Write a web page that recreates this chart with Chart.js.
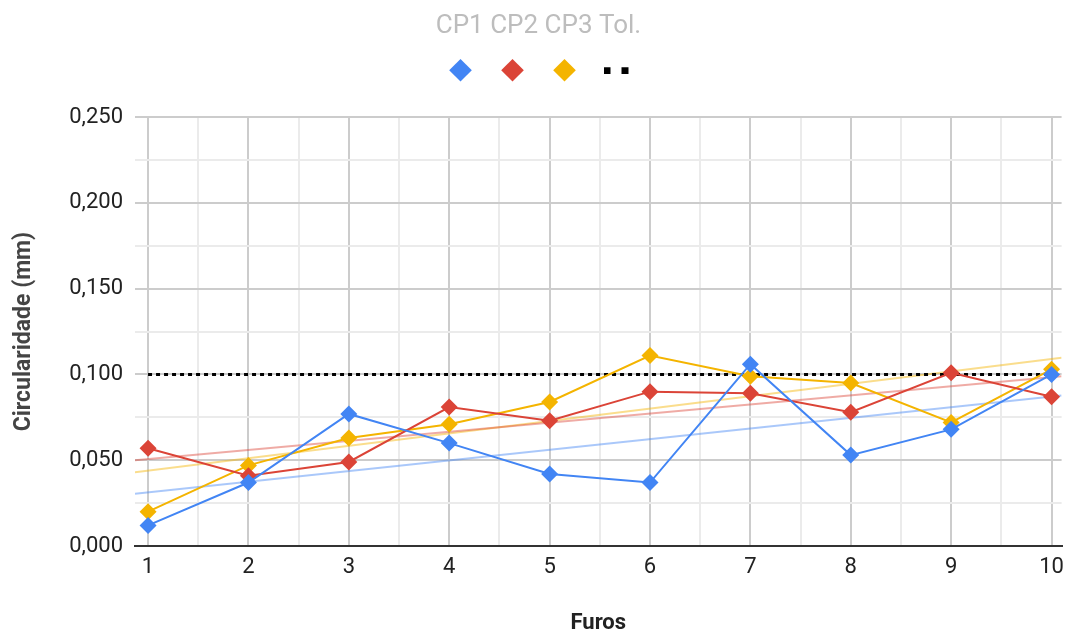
<!DOCTYPE html>
<html><head><meta charset="utf-8">
<script src="https://cdn.jsdelivr.net/npm/chart.js@4"></script>
<style>html,body{margin:0;padding:0;background:#fff}</style>
</head><body>
<canvas id="c" width="1072" height="637"></canvas>
<script>
const furos = [1, 2, 3, 4, 5, 6, 7, 8, 9, 10];
const cp1 = [0.012, 0.037, 0.077, 0.060, 0.042, 0.037, 0.106, 0.053, 0.068, 0.100];
const cp2 = [0.057, 0.041, 0.049, 0.081, 0.073, 0.090, 0.089, 0.078, 0.101, 0.087];
const cp3 = [0.020, 0.047, 0.063, 0.071, 0.084, 0.111, 0.099, 0.095, 0.072, 0.103];
const tol = [0.100, 0.100, 0.100, 0.100, 0.100, 0.100, 0.100, 0.100, 0.100, 0.100];
const seriesNames = ['CP1', 'CP2', 'CP3', 'Tol.'];
const yMajorTicks = [0, 0.05, 0.10, 0.15, 0.20, 0.25];
const xTickLabels = ['1', '2', '3', '4', '5', '6', '7', '8', '9', '10'];

const X_MIN = 0.87, X_MAX = 10.1;
const colors = ['#4285f4', '#db4437', '#f4b400'];
const trendColors = ['rgba(66,133,244,0.45)', 'rgba(219,68,55,0.45)', 'rgba(244,180,0,0.45)'];

function pts(ys) { return furos.map((x, i) => ({ x: x, y: ys[i] })); }
function trend(ys) {
  const n = furos.length;
  const mx = furos.reduce((a, b) => a + b, 0) / n;
  const my = ys.reduce((a, b) => a + b, 0) / n;
  let sxy = 0, sxx = 0;
  furos.forEach((x, i) => { sxy += (x - mx) * (ys[i] - my); sxx += (x - mx) * (x - mx); });
  const b = sxy / sxx, a = my - b * mx;
  return [{ x: X_MIN, y: a + b * X_MIN }, { x: X_MAX, y: a + b * X_MAX }];
}

// legend icon for tolerance (two black squares)
const tolIcon = document.createElement('canvas');
tolIcon.width = 26; tolIcon.height = 8;
(function () {
  const g = tolIcon.getContext('2d');
  g.fillStyle = '#000';
  g.fillRect(0, 1, 7, 7);
  g.fillRect(18, 1, 7, 7);
})();

const all = [cp1, cp2, cp3];
const datasets = [];
all.forEach((s, i) => {
  datasets.push({
    label: seriesNames[i], data: pts(s), borderColor: colors[i], backgroundColor: colors[i],
    borderWidth: 2, pointStyle: 'rectRot', pointRadius: 8.5, pointHoverRadius: 8.5,
    pointBorderWidth: 0, order: 1
  });
});
datasets.push({
  label: seriesNames[3], data: pts(tol), borderColor: '#000', backgroundColor: '#000',
  borderWidth: 3, borderDash: [4, 4], pointRadius: 0, order: 2
});
all.forEach((s, i) => {
  datasets.push({
    label: 'trend' + i, data: trend(s), borderColor: trendColors[i], backgroundColor: trendColors[i],
    borderWidth: 2, pointRadius: 0, order: 3
  });
});

const legendSpacer = {
  id: 'legendSpacer',
  beforeLayout(chart) {
    const L = chart.legend;
    if (L && !L._spaced) {
      const f = L.fit;
      L.fit = function () { f.call(this); this.height += 29; };
      const d = L.draw;
      L.draw = function () {
        const ctx = this.ctx;
        ctx.save(); ctx.translate(4, 0); d.apply(this, arguments); ctx.restore();
      };
      L._spaced = true;
    }
  }
};

const FONT = 'Roboto, Arial, sans-serif';
new Chart(document.getElementById('c'), {
  type: 'line',
  data: { datasets: datasets },
  plugins: [legendSpacer],
  options: {
    responsive: false, animation: false,
    layout: { padding: { left: 10, right: 5, top: 0, bottom: 0 } },
    plugins: {
      title: {
        display: true, text: seriesNames.join(' '), color: '#bdbdbd',
        font: { family: FONT, size: 26, weight: 'normal' }, padding: { top: 11, bottom: -8 }
      },
      legend: {
        display: true,
        labels: {
          usePointStyle: true, boxWidth: 16, boxHeight: 16, padding: 28,
          font: { family: FONT, size: 16 },
          generateLabels: (chart) => chart.data.datasets.slice(0, 4).map((d, i) => ({
            text: '', fillStyle: i < 3 ? colors[i] : '#000', strokeStyle: i < 3 ? colors[i] : '#000',
            lineWidth: 0, pointStyle: i < 3 ? 'rectRot' : tolIcon, datasetIndex: i, hidden: false
          }))
        }
      },
      tooltip: { enabled: false }
    },
    scales: {
      x: {
        type: 'linear', min: X_MIN, max: X_MAX,
        afterBuildTicks: (s) => {
          const t = [];
          for (let v = 1; v <= 10.001; v += 0.5) t.push({ value: v });
          s.ticks = t;
        },
        afterFit: (s) => { s.height = 91; },
        ticks: {
          autoSkip: false, maxRotation: 0, padding: 8, color: '#222',
          font: { family: FONT, size: 22 },
          callback: (v) => Number.isInteger(v) ? xTickLabels[v - 1] : ''
        },
        grid: {
          drawTicks: false,
          color: (c) => Number.isInteger(c.tick && c.tick.value) ? '#cccccc' : '#ebebeb',
          lineWidth: 2
        },
        border: { display: true, color: '#333', width: 2 },
        title: {
          display: true, text: 'Furos', color: '#222',
          font: { family: FONT, size: 22, weight: 'bold' }, padding: { top: 2, bottom: 0 }
        }
      },
      y: {
        type: 'linear', min: 0, max: 0.25,
        afterBuildTicks: (s) => {
          const t = [];
          for (let k = 0; k <= 10; k++) t.push({ value: k * 0.025 });
          s.ticks = t;
        },
        afterFit: (s) => { s.width = 125; },
        ticks: {
          autoSkip: false, padding: 12, color: '#222',
          font: { family: FONT, size: 22 },
          callback: (v) => {
            const k = Math.round(v / 0.025);
            if (k % 2 !== 0) return '';
            const m = yMajorTicks[k / 2];
            return m.toFixed(3).replace('.', ',');
          }
        },
        grid: {
          drawTicks: false,
          color: (c) => (Math.round(c.tick.value / 0.025) % 2 === 0) ? '#cccccc' : '#ebebeb',
          lineWidth: 2
        },
        border: { display: false },
        title: {
          display: true, text: 'Circularidade (mm)', color: '#444',
          font: { family: FONT, size: 23, weight: 'bold' }, padding: { top: 0, bottom: 0 }
        }
      }
    }
  }
});
</script>
</body></html>
